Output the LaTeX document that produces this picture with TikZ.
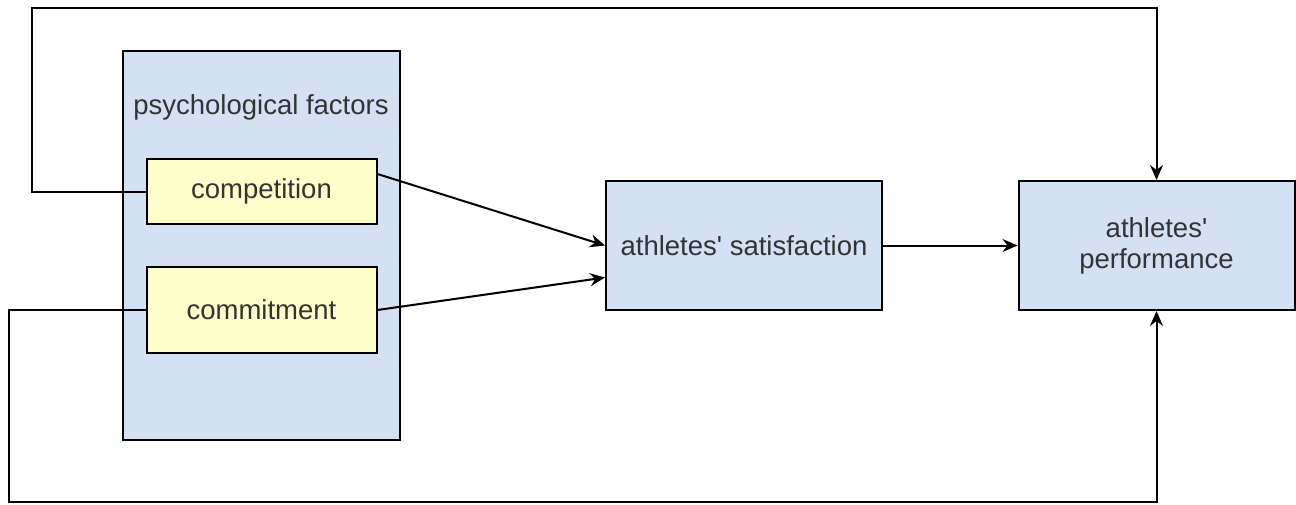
\documentclass[tikz,border=0pt]{standalone}
\usepackage{fontspec}
\setmainfont{Liberation Sans}
\usetikzlibrary{positioning,arrows.meta}
\definecolor{boxblue}{HTML}{D4E1F5}
\definecolor{boxyellow}{HTML}{FFFFCC}
\definecolor{txtgray}{HTML}{333333}

\begin{document}
\begin{tikzpicture}[x=1pt,y=-1pt,
		every node/.style={font=\fontsize{27.5}{31}\selectfont, text=txtgray},
		bluebox/.style={draw=black, fill=boxblue, line width=2pt, minimum width=276pt, minimum height=129pt, inner sep=0pt, align=center},
		yellowbox/.style={draw=black, fill=boxyellow, line width=2pt, minimum width=230pt, inner sep=0pt},
		link/.style={line width=2pt, -{Stealth[length=15pt,width=13pt,inset=5pt]}}]
		\useasboundingbox (0,0) rectangle (1296,504);
		
		% The group of factors
		\node[bluebox, minimum width=277pt, minimum height=389pt] (psych) at (261.5,245.5) {};
		\node (psychtitle) at (261,107) {psychological factors};
		\node[yellowbox, minimum height=65pt] (comp) at (261.5,191.5) {competition};
		\node[yellowbox, minimum height=86pt] (commit) at (261.5,310) {commitment};
		
		% The outcomes
		\node[bluebox] (sat) at (744,245.5) {athletes\textquotesingle\ satisfaction};
		\node[bluebox] (perf) at (1156.5,245.5) {athletes\textquotesingle\\performance};
		
		% Bends of the two long links
		\coordinate (topbend) at (32,8);
		\coordinate (botbend) at (9,502);
		
		\draw[link] ([yshift=-16pt]comp.north east) -- (sat.west);
		\draw[link] (commit.east) -- ([yshift=-32pt]sat.west);
		\draw[link] (sat.east) -- (perf.west);
		\draw[link] (comp.west) -| (topbend) -| (perf.north);% Around the top
		\draw[link] (commit.west) -| (botbend) -| (perf.south);% Around the bottom
	\end{tikzpicture}
\end{document}
